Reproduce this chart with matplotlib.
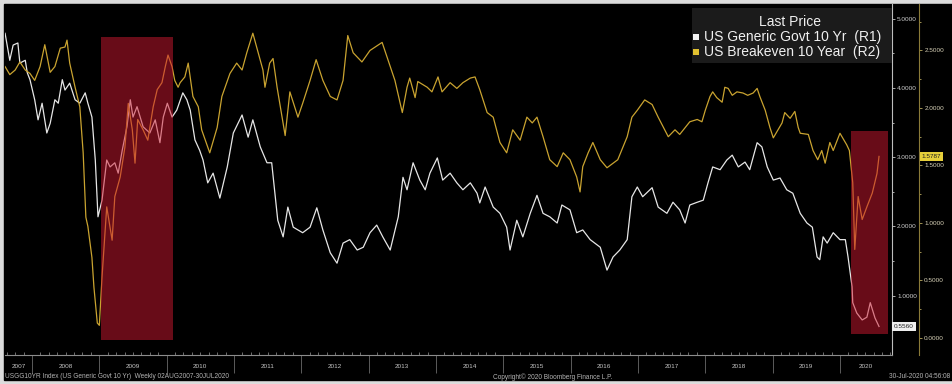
import matplotlib
matplotlib.use('Agg')
import matplotlib.pyplot as plt
from matplotlib.patches import Rectangle
from matplotlib.transforms import blended_transform_factory
import numpy as np

plt.rcParams['font.family'] = ['Liberation Sans', 'DejaVu Sans']

# weekly closes, dates as decimal years
ust_dates = [2007.60, 2007.67, 2007.72, 2007.79, 2007.82, 2007.90, 2007.93, 2007.97, 2008.04, 2008.09,
             2008.15, 2008.22, 2008.27, 2008.34, 2008.39, 2008.45, 2008.49, 2008.56, 2008.64, 2008.71,
             2008.79, 2008.83, 2008.89, 2008.94, 2008.98, 2009.04, 2009.11, 2009.16, 2009.23, 2009.28,
             2009.34, 2009.41, 2009.46, 2009.50, 2009.56, 2009.65, 2009.75, 2009.83, 2009.90, 2009.95,
             2010.01, 2010.08, 2010.15, 2010.24, 2010.30, 2010.35, 2010.42, 2010.49, 2010.54, 2010.61,
             2010.69, 2010.79, 2010.90, 2010.99, 2011.12, 2011.21, 2011.28, 2011.39, 2011.49, 2011.56,
             2011.65, 2011.73, 2011.80, 2011.88, 2012.02, 2012.13, 2012.23, 2012.32, 2012.43, 2012.53,
             2012.62, 2012.72, 2012.83, 2012.92, 2013.02, 2013.12, 2013.21, 2013.32, 2013.44, 2013.51,
             2013.57, 2013.66, 2013.76, 2013.84, 2013.91, 2014.02, 2014.10, 2014.21, 2014.31, 2014.40,
             2014.51, 2014.61, 2014.65, 2014.73, 2014.85, 2014.95, 2015.05, 2015.10, 2015.20, 2015.29,
             2015.40, 2015.50, 2015.59, 2015.69, 2015.80, 2015.87, 2015.99, 2016.09, 2016.18, 2016.29,
             2016.44, 2016.54, 2016.63, 2016.73, 2016.84, 2016.91, 2016.99, 2017.07, 2017.21, 2017.30,
             2017.43, 2017.52, 2017.62, 2017.70, 2017.77, 2017.88, 2017.97, 2018.04, 2018.11, 2018.22,
             2018.32, 2018.40, 2018.49, 2018.59, 2018.66, 2018.77, 2018.84, 2018.92, 2019.01, 2019.11,
             2019.21, 2019.30, 2019.41, 2019.51, 2019.59, 2019.66, 2019.70, 2019.75, 2019.81, 2019.90,
             2020.00, 2020.08, 2020.12, 2020.18, 2020.19, 2020.25, 2020.33, 2020.40, 2020.45, 2020.52,
             2020.58]
ust_10y = [4.79, 4.40, 4.62, 4.65, 4.36, 4.40, 4.22, 4.12, 3.83, 3.54,
           3.78, 3.35, 3.49, 3.83, 3.78, 4.12, 3.97, 4.07, 3.83, 3.78,
           3.93, 3.78, 3.58, 2.96, 2.14, 2.38, 2.96, 2.86, 2.92, 2.77,
           3.10, 3.44, 3.83, 3.58, 3.73, 3.44, 3.35, 3.54, 3.21, 3.58,
           3.78, 3.58, 3.68, 3.93, 3.83, 3.68, 3.25, 3.10, 2.96, 2.63,
           2.77, 2.41, 2.86, 3.35, 3.61, 3.29, 3.54, 3.15, 2.92, 2.92,
           2.09, 1.85, 2.28, 1.99, 1.91, 1.99, 2.27, 1.95, 1.62, 1.47,
           1.76, 1.81, 1.66, 1.70, 1.91, 2.02, 1.85, 1.66, 2.14, 2.71,
           2.53, 2.92, 2.67, 2.53, 2.77, 2.99, 2.67, 2.77, 2.63, 2.53,
           2.63, 2.48, 2.34, 2.57, 2.28, 2.19, 1.99, 1.66, 2.09, 1.85,
           2.19, 2.45, 2.19, 2.14, 2.05, 2.31, 2.24, 1.91, 1.95, 1.81,
           1.70, 1.37, 1.56, 1.66, 1.81, 2.43, 2.57, 2.43, 2.56, 2.28,
           2.19, 2.35, 2.24, 2.05, 2.31, 2.35, 2.38, 2.63, 2.86, 2.82,
           2.96, 3.03, 2.86, 2.93, 2.82, 3.21, 3.15, 2.86, 2.67, 2.70,
           2.53, 2.48, 2.19, 2.05, 1.99, 1.56, 1.52, 1.85, 1.76, 1.91,
           1.81, 1.81, 1.56, 1.13, 0.90, 0.75, 0.65, 0.69, 0.90, 0.68,
           0.556]

be_dates = [2007.60, 2007.67, 2007.75, 2007.82, 2007.90, 2007.97, 2008.04, 2008.12, 2008.19, 2008.27,
            2008.34, 2008.42, 2008.49, 2008.52, 2008.56, 2008.64, 2008.71, 2008.76, 2008.80, 2008.83,
            2008.89, 2008.92, 2008.97, 2009.00, 2009.04, 2009.11, 2009.19, 2009.23, 2009.31, 2009.38,
            2009.43, 2009.49, 2009.53, 2009.57, 2009.65, 2009.72, 2009.80, 2009.86, 2009.93, 2009.98,
            2010.02, 2010.08, 2010.12, 2010.17, 2010.20, 2010.27, 2010.32, 2010.39, 2010.47, 2010.52,
            2010.64, 2010.75, 2010.82, 2010.94, 2011.04, 2011.12, 2011.19, 2011.28, 2011.36, 2011.43,
            2011.46, 2011.53, 2011.58, 2011.64, 2011.76, 2011.83, 2011.95, 2012.02, 2012.13, 2012.22,
            2012.32, 2012.43, 2012.53, 2012.62, 2012.69, 2012.77, 2012.90, 2013.02, 2013.20, 2013.32,
            2013.39, 2013.50, 2013.57, 2013.61, 2013.69, 2013.73, 2013.87, 2013.94, 2014.03, 2014.09,
            2014.21, 2014.31, 2014.40, 2014.51, 2014.58, 2014.65, 2014.76, 2014.85, 2014.95, 2015.05,
            2015.14, 2015.25, 2015.35, 2015.43, 2015.50, 2015.59, 2015.69, 2015.80, 2015.89, 2015.99,
            2016.09, 2016.14, 2016.18, 2016.26, 2016.33, 2016.44, 2016.54, 2016.63, 2016.70, 2016.84,
            2016.91, 2016.99, 2017.10, 2017.21, 2017.30, 2017.45, 2017.55, 2017.62, 2017.73, 2017.77,
            2017.88, 2017.95, 2018.00, 2018.07, 2018.11, 2018.17, 2018.25, 2018.29, 2018.34, 2018.40,
            2018.47, 2018.56, 2018.63, 2018.71, 2018.77, 2018.81, 2018.89, 2018.96, 2019.01, 2019.06,
            2019.14, 2019.18, 2019.26, 2019.33, 2019.38, 2019.41, 2019.53, 2019.60, 2019.67, 2019.73,
            2019.78, 2019.85, 2019.90, 2020.00, 2020.10, 2020.14, 2020.19, 2020.22, 2020.27, 2020.33,
            2020.40, 2020.48, 2020.55, 2020.58]
be_10y = [2.36, 2.29, 2.33, 2.40, 2.33, 2.30, 2.24, 2.36, 2.55, 2.31,
          2.36, 2.52, 2.53, 2.59, 2.39, 2.18, 2.01, 1.61, 1.05, 0.97,
          0.70, 0.44, 0.13, 0.11, 0.53, 1.14, 0.85, 1.23, 1.40, 1.66,
          2.04, 1.81, 1.52, 1.90, 1.81, 1.72, 2.01, 2.16, 2.22, 2.36,
          2.46, 2.36, 2.24, 2.18, 2.22, 2.27, 2.39, 2.10, 2.01, 1.81,
          1.61, 1.83, 2.10, 2.30, 2.39, 2.33, 2.48, 2.65, 2.48, 2.33,
          2.18, 2.39, 2.43, 2.18, 1.76, 2.14, 1.92, 2.04, 2.24, 2.42,
          2.24, 2.10, 2.07, 2.24, 2.63, 2.48, 2.40, 2.50, 2.57, 2.36,
          2.24, 1.96, 2.18, 2.26, 2.09, 2.23, 2.18, 2.14, 2.27, 2.14,
          2.22, 2.17, 2.22, 2.26, 2.27, 2.16, 1.96, 1.92, 1.70, 1.61,
          1.81, 1.72, 1.92, 1.87, 1.92, 1.75, 1.55, 1.49, 1.61, 1.55,
          1.40, 1.27, 1.49, 1.61, 1.70, 1.55, 1.48, 1.52, 1.55, 1.75,
          1.92, 1.98, 2.07, 2.03, 1.92, 1.75, 1.81, 1.77, 1.85, 1.88,
          1.90, 1.88, 1.98, 2.10, 2.14, 2.09, 2.05, 2.18, 2.17, 2.11,
          2.14, 2.13, 2.11, 2.13, 2.17, 2.10, 1.98, 1.83, 1.74, 1.79,
          1.87, 1.96, 1.91, 1.97, 1.83, 1.78, 1.77, 1.63, 1.55, 1.63,
          1.52, 1.70, 1.63, 1.78, 1.68, 1.63, 1.35, 0.77, 1.23, 1.03,
          1.14, 1.26, 1.43, 1.5787]

# highlighted windows (start, end, low, high) in R1 units
highlights = [(2009.02, 2010.09, 0.36, 4.74), (2020.16, 2020.71, 0.45, 3.38)]
years = list(range(2007, 2021))
r1_ticks = [1, 2, 3, 4, 5]
r2_ticks = [0.0, 0.5, 1.0, 1.5, 2.0, 2.5]

W, H = 952, 384
fig = plt.figure(figsize=(W / 100, H / 100), dpi=100, facecolor='#dcdcdc')
fig.add_artist(Rectangle((4 / W, 4 / H), 1, 1 - 8 / H, transform=fig.transFigure,
                         color='black', zorder=0))

ax = fig.add_axes([5 / W, 1 - 355 / H, 887 / W, 351 / H])
ax.set_facecolor('black')
ax2 = ax.twinx()
ax.yaxis.tick_right()

xmin, xmax = 2007.599, 2020.773
ax.set_xlim(xmin, xmax)
ax.set_ylim(0.144, 5.213)
ax2.set_ylim(-0.148, 2.904)

ax.plot(ust_dates, ust_10y, color='#e6e6e6', lw=0.9, zorder=3)
ax2.plot(be_dates, be_10y, color='#c9a330', lw=0.9, zorder=3)

for x0, x1, y0, y1 in highlights:
    ax2.add_patch(Rectangle((x0, y0), x1 - x0, y1 - y0, transform=ax.transData,
                            facecolor='#d01830', edgecolor='none', alpha=0.5, zorder=10))

# spines
for s in ['left', 'top']:
    ax.spines[s].set_visible(False)
for s in ['left', 'top', 'bottom']:
    ax2.spines[s].set_visible(False)
ax.spines['bottom'].set_color('#8c8c8c')
ax.spines['right'].set_color('#bdbdbd')
ax.spines['right'].set_linewidth(0.8)
ax2.spines['right'].set_position(('outward', 19.5))
ax2.spines['right'].set_color('#8a7a38')
ax2.spines['right'].set_linewidth(0.8)

# right axes ticks
ax.set_yticks(r1_ticks)
ax.set_yticks(np.arange(0.5, 5.0, 1.0), minor=True)
ax.set_yticklabels(['%.4f' % v for v in r1_ticks])
ax.tick_params(axis='y', which='both', direction='out', color='#c8c8c8', width=0.6,
               labelcolor='#cfcfcf', labelsize=4.6, pad=1.2)
ax.tick_params(axis='y', which='major', length=2.5)
ax.tick_params(axis='y', which='minor', length=1.5)

ax2.set_yticks(r2_ticks)
ax2.set_yticks(np.arange(0.25, 2.9, 0.5), minor=True)
ax2.set_yticklabels(['%.4f' % v for v in r2_ticks])
ax2.tick_params(axis='y', which='both', direction='out', color='#b8a860', width=0.6,
                labelcolor='#d8d2b8', labelsize=4.6, pad=1.2)
ax2.tick_params(axis='y', which='major', length=2.5)
ax2.tick_params(axis='y', which='minor', length=1.5)

# time axis: year separators + small inner ticks
ax.set_xticks(years[1:])
ax.set_xticks(np.arange(2007.625, xmax, 0.125), minor=True)
ax.tick_params(axis='x', which='major', direction='out', length=13, width=0.6,
               color='#6a6a6a', labelbottom=False)
ax.tick_params(axis='x', which='minor', direction='in', length=2, width=0.5, color='#9a9a9a')
trx = blended_transform_factory(ax.transData, ax.transAxes)
for yr in years:
    lo, hi = max(yr, xmin), min(yr + 1, xmax)
    ax.text((lo + hi) / 2, -0.034, str(yr), transform=trx, ha='center', va='center',
            fontsize=4.6, color='#c4c4c4')

# last price tags
ax.annotate('0.5560', xy=(1, ust_10y[-1]), xycoords=blended_transform_factory(ax.transAxes, ax.transData),
            xytext=(1.6, 0), textcoords='offset points', ha='left', va='center', fontsize=4.6,
            color='#202020', annotation_clip=False, zorder=20,
            bbox=dict(boxstyle='square,pad=0.3', fc='#eeeeee', ec='none'))
ax2.annotate('1.5787', xy=(1, be_10y[-1]), xycoords=blended_transform_factory(ax2.transAxes, ax2.transData),
             xytext=(21.2, 0), textcoords='offset points', ha='left', va='center', fontsize=4.6,
             color='#202020', annotation_clip=False, zorder=20,
             bbox=dict(boxstyle='square,pad=0.3', fc='#e6cf3a', ec='none'))

# legend box
fig.add_artist(Rectangle((692 / W, 1 - 63 / H), 200 / W, 55 / H, transform=fig.transFigure,
                         facecolor='#1b1b1b', edgecolor='none', zorder=30))
fig.text(790 / W, 1 - 22 / H, 'Last Price', ha='center', va='center', fontsize=10,
         color='#f0f0f0', zorder=31)
legend_rows = [('US Generic Govt 10 Yr  (R1)', '#f2f2f2', 37), ('US Breakeven 10 Year  (R2)', '#e0c030', 52)]
for label, col, ypx in legend_rows:
    fig.add_artist(Rectangle((693 / W, 1 - (ypx + 3) / H), 6 / W, 6 / H, transform=fig.transFigure,
                             facecolor=col, edgecolor='none', zorder=31))
    fig.text(704 / W, 1 - ypx / H, label, ha='left', va='center', fontsize=10,
             color='#f0f0f0', zorder=31)

# footer
fig.text(5 / W, 1 - 377 / H, 'USGG10YR Index (US Generic Govt 10 Yr)  Weekly 02AUG2007-30JUL2020',
         fontsize=4.7, color='#b4b4b4', va='center')
fig.text(493 / W, 1 - 377 / H, 'Copyright\u00a9 2020 Bloomberg Finance L.P.',
         fontsize=4.7, color='#b4b4b4', va='center')
fig.text(950 / W, 1 - 377 / H, '30-Jul-2020 04:56:08', fontsize=4.7, color='#b4b4b4',
         va='center', ha='right')

fig.savefig('out.png', dpi=100, facecolor=fig.get_facecolor())
